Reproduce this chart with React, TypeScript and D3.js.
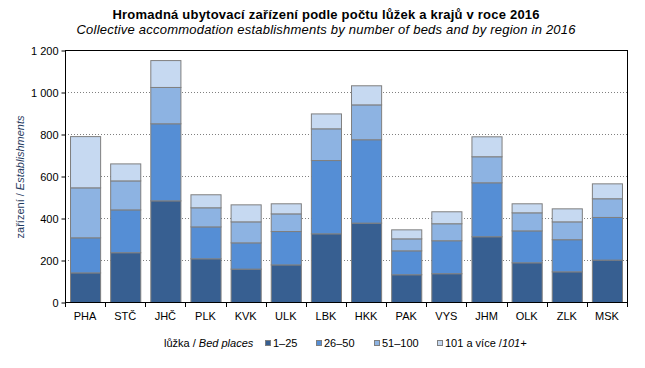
import React, { useRef, useEffect } from 'react';
import * as d3 from 'd3';

const regions = ['PHA', 'STČ', 'JHČ', 'PLK', 'KVK', 'ULK', 'LBK', 'HKK', 'PAK', 'VYS', 'JHM', 'OLK', 'ZLK', 'MSK'];
const beds1to25 = [141, 237, 484, 208, 159, 179, 327, 378, 132, 137, 313, 189, 146, 202];
const beds26to50 = [167, 204, 367, 152, 125, 159, 349, 397, 114, 157, 257, 152, 153, 203];
const beds51to100 = [238, 138, 173, 91, 100, 84, 151, 166, 57, 81, 124, 86, 85, 89];
const beds101plus = [244, 81, 128, 62, 81, 48, 71, 91, 43, 57, 95, 43, 62, 71];
const seriesKeys = ['a', 'b', 'c', 'd'];
const seriesLabels = ['1–25', '26–50', '51–100', '101 a více /'];
const colors = ['#375f91', '#558ed5', '#8db3e2', '#c6d9f1'];
const yTicks = [0, 200, 400, 600, 800, 1000, 1200];

export default function App() {
  const ref = useRef<SVGSVGElement>(null);

  useEffect(() => {
    const svg = d3.select(ref.current);
    svg.selectAll('*').remove();
    const font = 'Liberation Sans, Arial, sans-serif';
    const m = { left: 65, right: 627, top: 50, bottom: 302 };

    const rows = regions.map((r, i) => ({
      region: r, a: beds1to25[i], b: beds26to50[i], c: beds51to100[i], d: beds101plus[i]
    }));
    const stacked = d3.stack<any>().keys(seriesKeys)(rows);

    const x = d3.scaleBand().domain(regions).range([m.left, m.right]).paddingInner(0.25).paddingOuter(0.125);
    const y = d3.scaleLinear().domain([0, 1200]).range([m.bottom, m.top]);

    const g = svg.append('g').attr('font-family', font);

    // grid
    g.append('g').selectAll('line').data(yTicks.filter(t => t > 0 && t < 1200)).enter().append('line')
      .attr('x1', m.left).attr('x2', m.right)
      .attr('y1', d => y(d) + 0.5).attr('y2', d => y(d) + 0.5)
      .attr('stroke', '#808080').attr('stroke-dasharray', '1,2');

    // bars
    g.append('g').selectAll('g').data(stacked).enter().append('g')
      .attr('fill', (d, i) => colors[i])
      .selectAll('rect').data(d => d).enter().append('rect')
      .attr('x', d => x(d.data.region)! + 0.5)
      .attr('y', d => y(d[1]) + 0.5)
      .attr('width', x.bandwidth())
      .attr('height', d => y(d[0]) - y(d[1]))
      .attr('stroke', '#7f7f7f').attr('stroke-width', 1);

    // frame
    g.append('rect').attr('x', m.left + 0.5).attr('y', m.top + 0.5)
      .attr('width', m.right - m.left).attr('height', m.bottom - m.top)
      .attr('fill', 'none').attr('stroke', '#000').attr('stroke-width', 1);

    // y axis
    const yAxis = g.append('g').attr('transform', `translate(${m.left + 0.5},0.5)`)
      .call(d3.axisLeft(y).tickValues(yTicks).tickSize(4).tickPadding(3)
        .tickFormat(d => d3.format(',')(d as number).replace(',', ' ')));
    yAxis.select('.domain').remove();
    yAxis.selectAll('text').attr('font-size', 11).attr('font-family', font).attr('fill', '#000');

    // x axis ticks at category boundaries
    const step = x.step();
    const bounds = d3.range(regions.length + 1).map(i => m.left + i * step);
    g.append('g').selectAll('line').data(bounds).enter().append('line')
      .attr('x1', d => Math.round(d) + 0.5).attr('x2', d => Math.round(d) + 0.5)
      .attr('y1', m.bottom).attr('y2', m.bottom + 5).attr('stroke', '#000');
    g.append('g').selectAll('text').data(regions).enter().append('text')
      .attr('x', d => x(d)! + x.bandwidth() / 2).attr('y', 320)
      .attr('text-anchor', 'middle').attr('font-size', 11).attr('fill', '#000').text(d => d);

    // titles
    g.append('text').attr('x', 326).attr('y', 19).attr('text-anchor', 'middle')
      .attr('font-size', 13).attr('font-weight', 'bold')
      .attr('textLength', 427).attr('lengthAdjust', 'spacing')
      .text('Hromadná ubytovací  zařízení podle počtu lůžek a krajů v roce 2016');
    g.append('text').attr('x', 326).attr('y', 34).attr('text-anchor', 'middle')
      .attr('font-size', 13).attr('font-style', 'italic')
      .attr('textLength', 499).attr('lengthAdjust', 'spacing')
      .text('Collective accommodation establishments by number of beds and by region in 2016');

    // y label
    const yl = g.append('text').attr('transform', 'translate(24,177) rotate(-90)')
      .attr('text-anchor', 'middle').attr('font-size', 11).attr('fill', '#1f3a60');
    yl.append('tspan').text('zařízení / ');
    yl.append('tspan').attr('font-style', 'italic').text('Establishments');

    // legend
    const lg = g.append('g');
    const lt = lg.append('text').attr('x', 164).attr('y', 347).attr('font-size', 11);
    lt.append('tspan').text('lůžka / ');
    lt.append('tspan').attr('font-style', 'italic').text('Bed places');
    const lx = [265, 316, 374, 437];
    seriesLabels.forEach((lab, i) => {
      lg.append('rect').attr('x', lx[i] + 0.5).attr('y', 340.5).attr('width', 5).attr('height', 5)
        .attr('fill', colors[i]).attr('stroke', '#7f7f7f');
      const t = lg.append('text').attr('x', lx[i] + 8).attr('y', 347).attr('font-size', 11).text(lab);
      if (i === 3) t.append('tspan').attr('font-style', 'italic').text('101+');
    });
  }, []);

  return (
    <div>
      <svg ref={ref} width={645} height={368} style={{ position: 'absolute', left: 0, top: 0, background: '#fff' }} />
    </div>
  );
}
